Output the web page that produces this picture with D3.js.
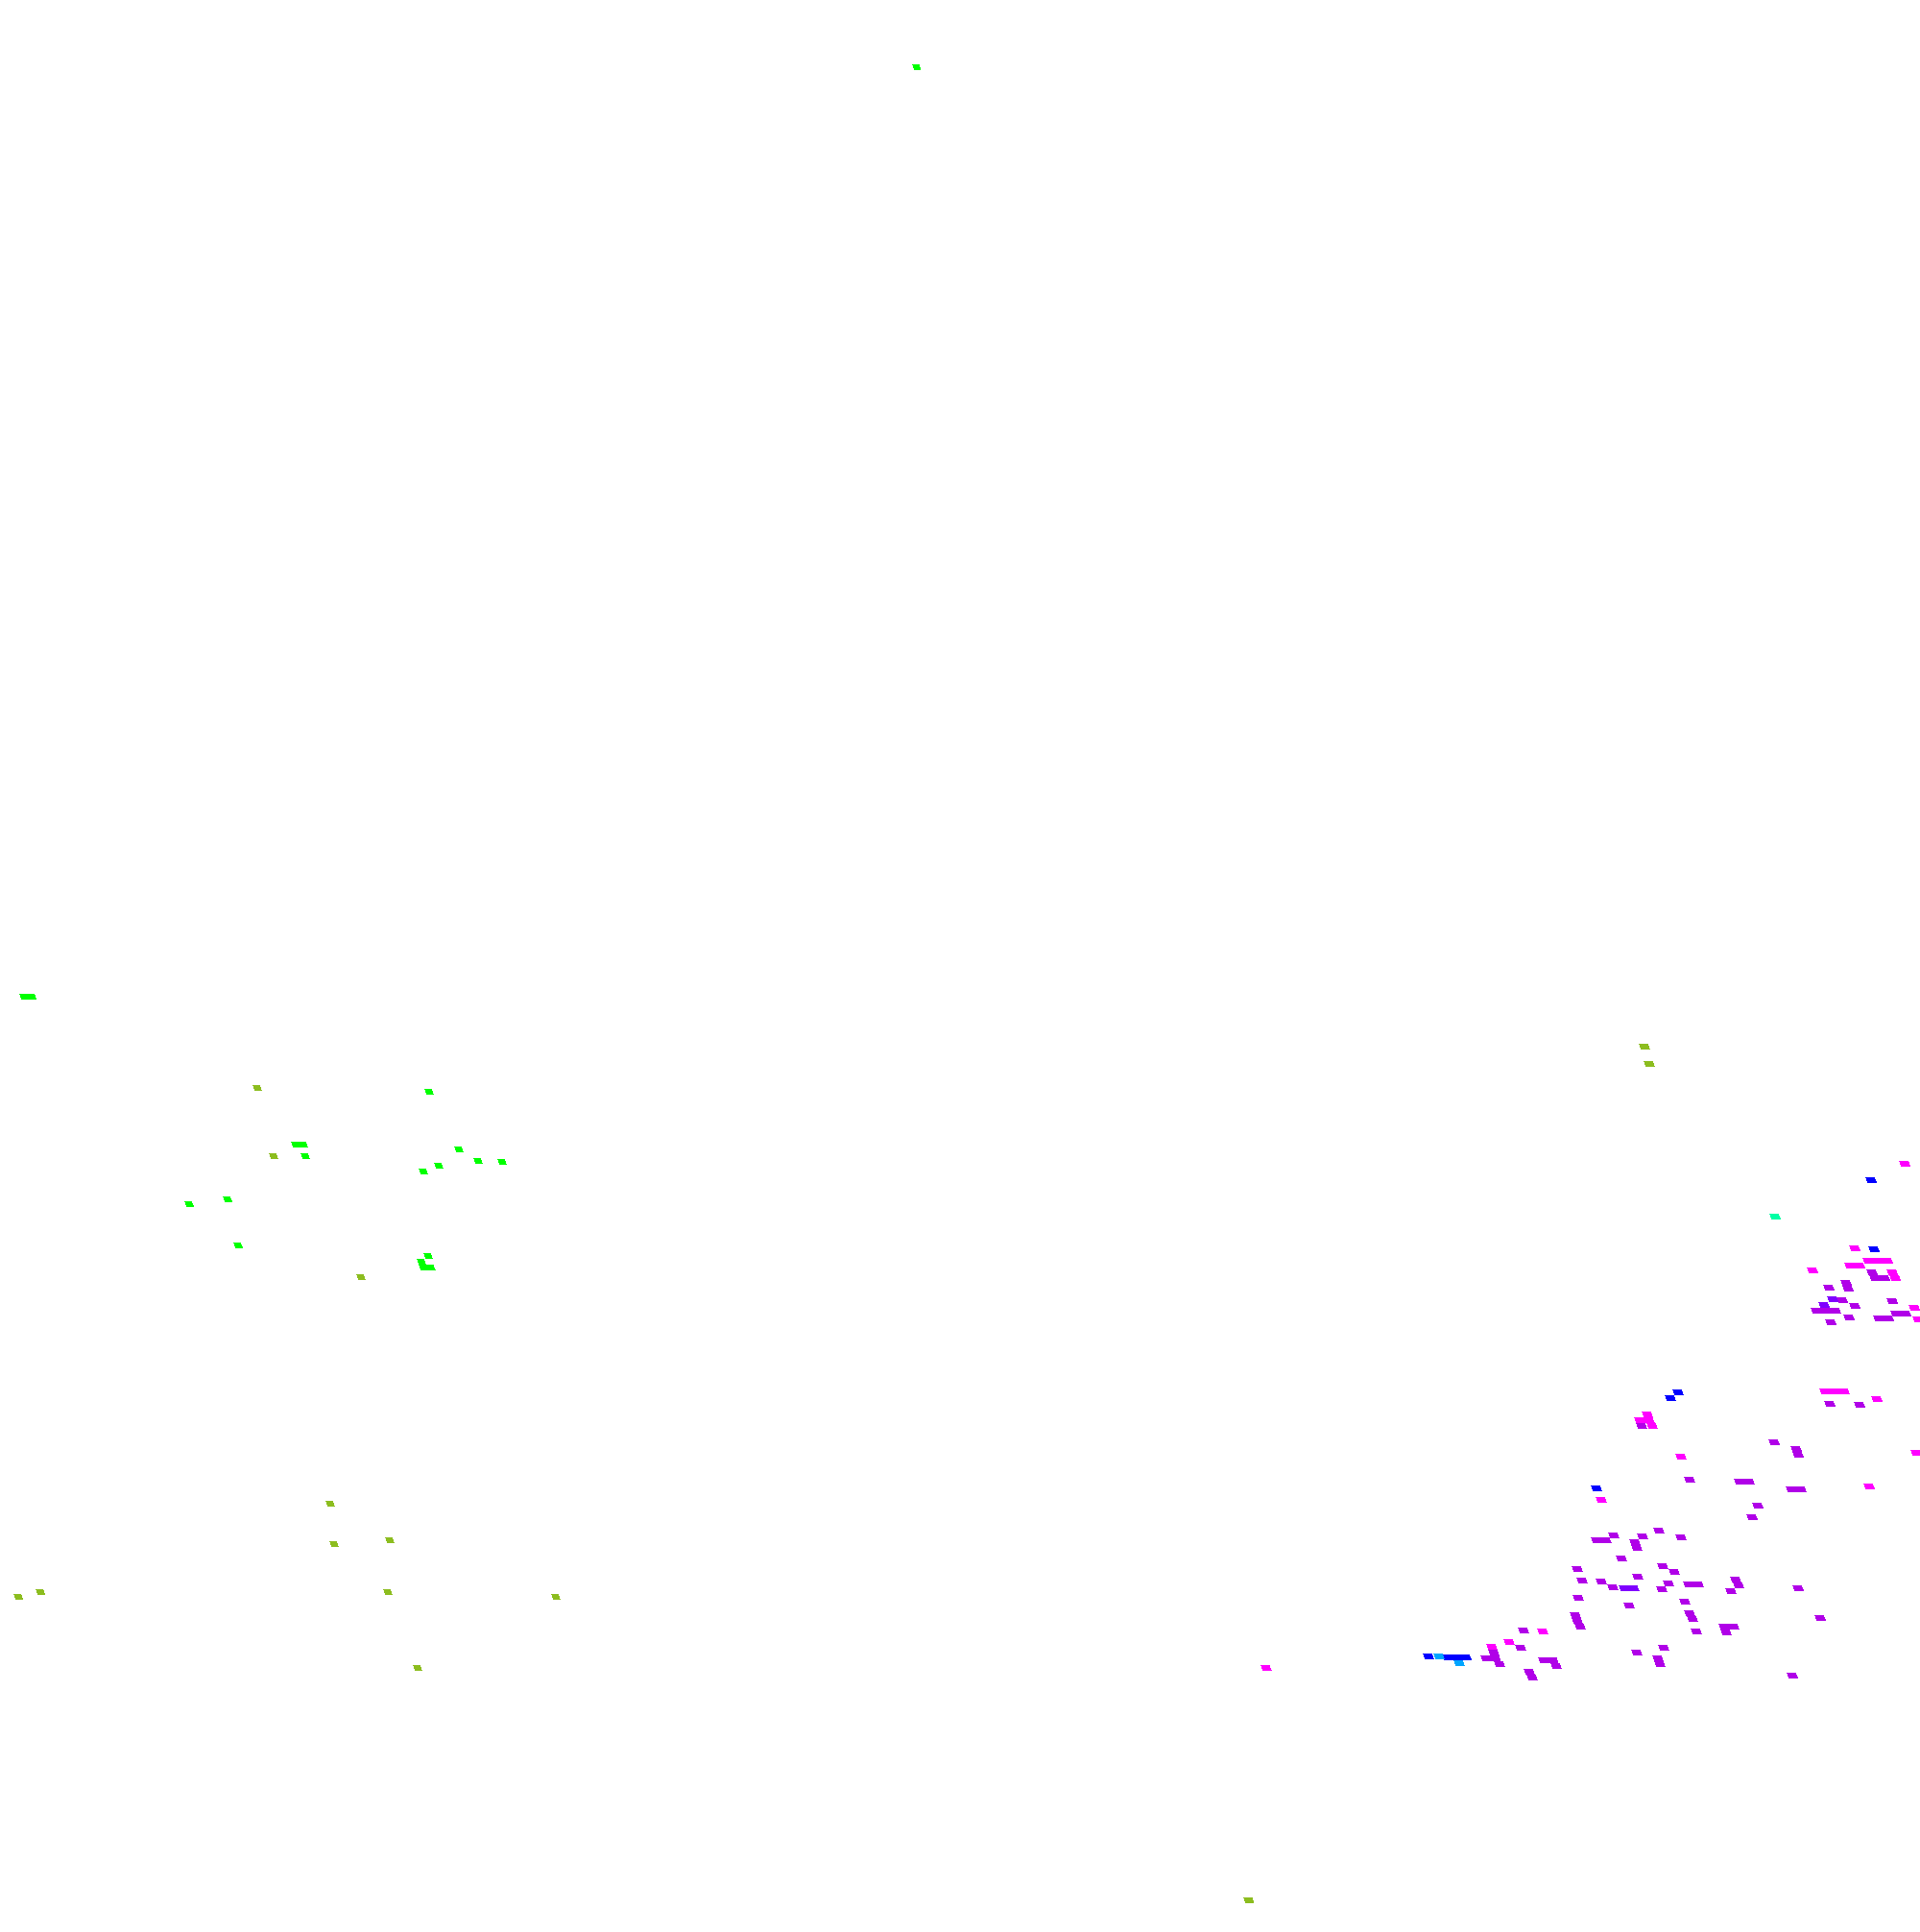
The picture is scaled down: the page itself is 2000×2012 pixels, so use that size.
<!DOCTYPE html>
<html>
<head>
<meta charset="utf-8">
<script src="https://cdn.jsdelivr.net/npm/d3@7/dist/d3.min.js"></script>
<style>
  html, body { margin: 0; padding: 0; background: #ffffff; }
  svg { display: block; }
</style>
</head>
<body>
<div id="chart"></div>
<script>
// Each entry: [easting, northing, number of adjacent cells in the run]
const greenCells = [
  [95.0, 194.5, 1], [2.0, 97.7, 2], [44.2, 87.8, 1], [30.3, 82.3, 2], [31.3, 81.1, 1],
  [47.3, 81.8, 1], [45.2, 80.1, 1], [49.3, 80.6, 1], [51.8, 80.5, 1], [43.6, 79.5, 1],
  [19.2, 76.1, 1], [23.2, 76.6, 1], [24.3, 71.8, 1], [44.1, 70.7, 1], [43.4, 70.1, 1],
  [43.6, 69.5, 2]
];
const oliveCells = [
  [26.3, 88.2, 1], [28.0, 81.1, 1], [37.1, 68.5, 1], [33.9, 44.9, 1], [34.3, 40.7, 1],
  [40.1, 41.1, 1], [1.4, 35.2, 1], [3.7, 35.7, 1], [39.9, 35.7, 1], [57.4, 35.2, 1],
  [43.0, 27.8, 1], [129.5, 3.6, 1], [170.7, 92.5, 1], [171.2, 90.7, 1]
];
const magentaCells = [
  [131.3, 27.8, 1], [197.8, 80.3, 1], [192.6, 71.5, 1], [194.0, 70.2, 3], [192.1, 69.7, 2],
  [188.2, 69.2, 1], [196.5, 69.0, 1], [196.8, 68.4, 1], [198.8, 65.3, 1], [199.2, 64.1, 1],
  [189.5, 56.6, 3], [194.9, 55.8, 1], [199.0, 50.2, 1], [171.0, 54.2, 1], [170.2, 53.6, 2],
  [171.5, 53.0, 1], [174.5, 49.8, 1], [194.1, 46.7, 1], [166.2, 45.3, 1], [160.1, 31.6, 1],
  [156.6, 30.5, 1], [154.8, 30.0, 1]
];
const purpleCells = [
  [194.4, 69.0, 1], [194.7, 68.4, 2], [191.7, 67.9, 1], [191.9, 67.3, 1], [189.9, 67.4, 1],
  [191.3, 66.1, 1], [192.6, 65.5, 1], [196.5, 66.0, 1], [188.6, 65.0, 3], [196.9, 64.7, 2],
  [192.0, 64.3, 1], [195.1, 64.2, 2], [190.1, 63.8, 1], [190.0, 55.3, 1], [193.1, 55.2, 1],
  [184.2, 51.3, 1], [186.5, 50.6, 1], [186.7, 50.0, 1], [170.4, 53.0, 1], [175.4, 47.4, 1],
  [180.6, 47.2, 2], [186.0, 46.4, 2], [182.5, 44.7, 1], [181.9, 43.5, 1], [172.2, 42.1, 1],
  [167.5, 41.6, 1], [170.5, 41.5, 1], [174.5, 41.4, 1], [165.7, 41.1, 2], [169.7, 40.9, 1],
  [169.9, 40.3, 1], [168.3, 39.2, 1], [163.7, 38.1, 1], [172.6, 38.4, 1], [173.8, 37.8, 1],
  [170.0, 37.3, 1], [164.2, 36.9, 1], [166.2, 36.8, 1], [167.4, 36.2, 1], [173.2, 36.6, 1],
  [172.5, 36.0, 1], [175.3, 36.5, 2], [180.2, 37.0, 1], [180.5, 36.4, 1], [179.7, 35.8, 1],
  [186.7, 36.1, 1], [163.8, 35.1, 1], [174.9, 34.7, 1], [169.1, 34.3, 1], [189.0, 33.0, 1],
  [163.5, 33.3, 1], [163.7, 32.7, 1], [164.0, 32.1, 1], [175.4, 33.5, 1], [175.7, 32.9, 1],
  [179.0, 32.1, 2], [179.2, 31.5, 1], [176.1, 31.6, 1], [172.7, 29.9, 1], [169.9, 29.4, 1],
  [160.2, 28.6, 2], [161.5, 28.0, 1], [172.1, 28.8, 1], [172.3, 28.2, 1], [186.1, 27.0, 1],
  [158.1, 31.7, 1], [157.8, 29.9, 1], [155.0, 29.4, 1], [154.2, 28.8, 2], [155.6, 28.2, 1],
  [158.7, 27.4, 1], [159.0, 26.8, 1]
];
const violetCells = [
  [190.3, 66.2, 1], [189.4, 65.6, 1], [168.6, 36.1, 2]
];
const blueCells = [
  [194.3, 78.6, 1], [194.6, 71.4, 1], [174.2, 56.5, 1], [173.4, 55.9, 1], [165.7, 46.5, 1],
  [148.2, 29.0, 1], [150.2, 28.9, 3]
];
const lightBlueCells = [
  [149.3, 29.0, 1], [151.4, 28.3, 1]
];
const tealCells = [
  [184.3, 74.8, 1]
];

const classes = ["purple", "violet", "magenta", "blue", "lightblue", "teal", "olive", "green"];
const classData = {
  purple: purpleCells, violet: violetCells, magenta: magentaCells, blue: blueCells,
  lightblue: lightBlueCells, teal: tealCells, olive: oliveCells, green: greenCells
};
const color = d3.scaleOrdinal()
  .domain(classes)
  .range(["#b000e8", "#7f00ff", "#ff00ff", "#0000ff", "#00a5ff", "#00ffa5", "#8cbd1f", "#00ff00"]);

const W = 2000, H = 2012;
const x = d3.scaleLinear().domain([0, 200]).range([0, W]);
const y = d3.scaleLinear().domain([201.2, 0]).range([0, H]);
const cellW = d3.scaleLinear().domain([0, 95, 130, 200]).range([8, 7.5, 9.5, 10]);
const cellH = 6, skew = 2.2;

// expand runs into individual cells
const cells = [];
classes.forEach(c => {
  classData[c].forEach(([e, n, run]) => {
    for (let i = 0; i < run; i++) cells.push({ cls: c, e, n, i });
  });
});

const svg = d3.select("#chart").append("svg")
  .attr("width", W).attr("height", H)
  .attr("viewBox", [0, 0, W, H]);

svg.append("rect").attr("width", W).attr("height", H).attr("fill", "#ffffff");

svg.append("g")
  .attr("shape-rendering", "crispEdges")
  .selectAll("polygon")
  .data(cells)
  .join("polygon")
  .attr("fill", d => color(d.cls))
  .attr("points", d => {
    const w = cellW(d.e);
    const x0 = x(d.e) + d.i * w;
    const y0 = y(d.n);
    return [[x0, y0], [x0 + w, y0], [x0 + w + skew, y0 + cellH], [x0 + skew, y0 + cellH]]
      .map(p => p.join(",")).join(" ");
  });
</script>
</body>
</html>
